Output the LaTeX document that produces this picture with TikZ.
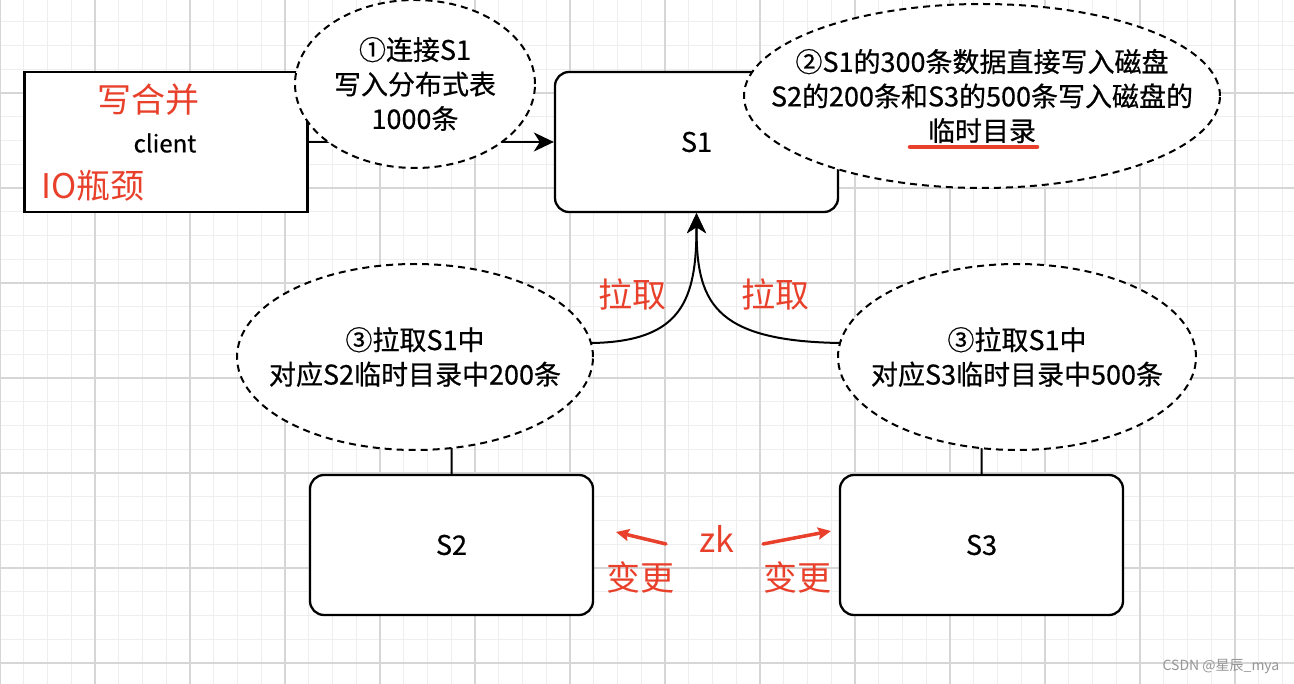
\documentclass[tikz,border=0pt]{standalone}
\usepackage{fontspec}
\setmainfont[FakeBold=0.6]{Noto Sans CJK SC}
\newfontfamily\plainfont{Noto Sans CJK SC}
\usetikzlibrary{arrows.meta,shapes.geometric}
\definecolor{gridmajor}{RGB}{214,214,214}
\definecolor{gridminor}{RGB}{238,238,238}
\definecolor{notered}{RGB}{232,64,42}
\definecolor{markgray}{RGB}{150,150,150}
\begin{document}
\begin{tikzpicture}[x=1pt,y=-1pt,
  box/.style={draw=black, line width=2.3pt, fill=white, minimum width=283pt,
    minimum height=140pt, inner sep=0pt, font=\fontsize{27}{30}\selectfont},
  roundbox/.style={box, rounded corners=14pt},
  bubble/.style={ellipse, draw=black, dash pattern=on 7pt off 5pt, line width=2pt,
    fill=white, inner sep=0pt},
  bubbletext/.style={inner sep=0pt, align=center, font=\fontsize{27}{34.5}\selectfont},
  conn/.style={draw=black, line width=2pt},
  tip/.style={-{Stealth[length=20pt,width=19pt,inset=6pt]}},
  note/.style={text=notered, font=\plainfont\fontsize{34}{40}\selectfont, inner sep=0pt},
  notearrow/.style={draw=notered, line width=3.5pt, line cap=round,
    -{Stealth[length=13pt,width=12pt,inset=2pt]}},
]
\useasboundingbox (0,0) rectangle (1294,684);
\fill[white] (0,0) rectangle (1294,684);

% background grid: fine lines, with a heavier line every fourth step
\foreach \i in {0,...,54}
  \draw[gridminor, line width=1pt] ({\i*23.75},0) -- ({\i*23.75},684);
\foreach \j in {0,...,29}
  \draw[gridminor, line width=1pt] (0,{-2+\j*23.75}) -- (1294,{-2+\j*23.75});
\foreach \i in {0,...,13}
  \draw[gridmajor, line width=1.2pt] ({\i*95},0) -- ({\i*95},684);
\foreach \j in {0,...,7}
  \draw[gridmajor, line width=1.2pt] (0,{-2+\j*95}) -- (1294,{-2+\j*95});

% servers and client
\node[box] (client) at (166,142) {};
\node[roundbox] (s1) at (696.5,142) {S1};
\node[roundbox] (s2) at (451.5,545) {S2};
\node[roundbox] (s3) at (981.5,545) {S3};

% connectors (the bubbles are laid over them)
\coordinate (j2) at (593,343);
\coordinate (j3) at (840,343);
\draw[conn, tip] (client) -- (s1);
\draw[conn, tip] (s2.north) |- (j2) .. controls (682,341) and (696.5,300) .. (s1.south);
\draw[conn, tip] (s3.north) |- (j3) .. controls (711,341) and (696.5,300) .. (s1.south);

% step bubbles
\node[bubble, minimum width=240pt, minimum height=168pt] (e1) at (415,84) {};
\node[bubble, minimum width=476pt, minimum height=184pt] (e2) at (982,96) {};
\node[bubble, minimum width=356pt, minimum height=186pt] (e3) at (415,357) {};
\node[bubble, minimum width=358pt, minimum height=186pt] (e4) at (1017,357) {};
\node[bubbletext] (t1) at (e1) {①连接S1\\写入分布式表\\1000条};
\node[bubbletext] (t2) at (e2) {②S1的300条数据直接写入磁盘\\S2的200条和S3的500条写入磁盘的\\临时目录};
\node[bubbletext] (t3) at (e3) {③拉取S1中\\对应S2临时目录中200条};
\node[bubbletext] (t4) at (e4) {③拉取S1中\\对应S3临时目录中500条};

% client label
\node[inner sep=0pt, font=\fontsize{24}{28}\selectfont] (clientlabel) at (165,143) {client};

% red annotations
\node[note] (merge) at (148,100) {写合并};
\node[note] (io) at (93,186) {IO瓶颈};
\node[note] (pullL) at (632,294) {拉取};
\node[note] (pullR) at (775,294) {拉取};
\node[note] (zk) at (717,539) {zk};
\node[note] (chgL) at (640,577) {变更};
\node[note] (chgR) at (797,577) {变更};
\coordinate (uA) at (910,147);
\coordinate (uB) at (1037,147);
\draw[draw=notered, line width=4.5pt, line cap=round] (uA) -- (uB);
\coordinate (aLs) at (666,544);
\coordinate (aLe) at (616,532);
\coordinate (aRs) at (763,544);
\coordinate (aRe) at (831,531);
\draw[notearrow] (aLs) -- (aLe);
\draw[notearrow] (aRs) -- (aRe);

% watermark
\node[text=markgray, inner sep=0pt, font=\plainfont\fontsize{14}{16}\selectfont] (mark) at (1221,667) {CSDN @星辰\_mya};
\end{tikzpicture}
\end{document}
